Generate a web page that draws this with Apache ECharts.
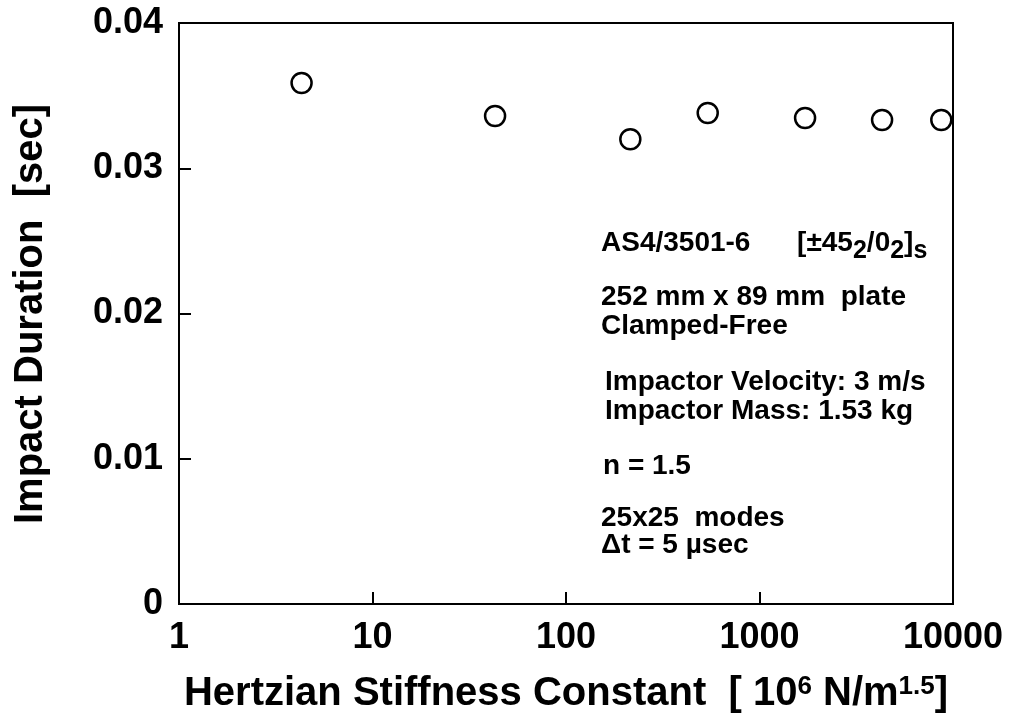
<!DOCTYPE html>
<html>
<head>
<meta charset="utf-8">
<script src="https://cdn.jsdelivr.net/npm/echarts@6/dist/echarts.min.js"></script>
<style>
  html, body { margin: 0; padding: 0; background: #fff; }
  #chart { width: 1012px; height: 725px; }
</style>
</head>
<body>
<div id="chart"></div>
<script>
// ---- data ----
const stiffness = [4.3, 43, 215, 540, 1720, 4300, 8700];          // 10^6 N/m^1.5
const impactDuration = [0.03587, 0.0336, 0.0320, 0.0338, 0.03346, 0.03332, 0.03332]; // sec
const xTickLabels = ['1', '10', '100', '1000', '10000'];
const yTickLabels = ['0', '0.01', '0.02', '0.03', '0.04'];
const yAxisTitle = 'Impact Duration  [sec]';
const xAxisTitle = 'Hertzian Stiffness Constant  [ 10{sup|6} N/m{sup|1.5}]';
const noteLines = [
  '{n|AS4/3501-6      [±45}{sub|2}{n|/0}{sub|2}{n|]}{sub|s}',
  '252 mm x 89 mm  plate',
  'Clamped-Free',
  'Impactor Velocity: 3 m/s',
  'Impactor Mass: 1.53 kg',
  'n = 1.5',
  '25x25  modes',
  'Δt = 5 µsec'
];

const FONT = '"Liberation Sans", Arial, Helvetica, sans-serif';
const notePos = [
  [601, 243.5], [601, 297.5], [601, 326], [605, 382.5],
  [605, 411], [603, 466], [601, 518], [601, 545]
];

const chart = echarts.init(document.getElementById('chart'), null, { renderer: 'canvas' });

const graphics = noteLines.map((t, i) => ({
  type: 'text',
  x: notePos[i][0],
  y: notePos[i][1],
  silent: true,
  style: {
    text: t,
    fill: '#000',
    font: 'bold 28px ' + FONT,
    align: 'left',
    verticalAlign: 'middle',
    rich: {
      n: { fontSize: 28, fontWeight: 'bold', fontFamily: FONT, lineHeight: 40, verticalAlign: 'middle', fill: '#000' },
      sub: { fontSize: 25, fontWeight: 'bold', fontFamily: FONT, lineHeight: 20, verticalAlign: 'bottom', fill: '#000' }
    }
  }
}));
graphics.push({
  type: 'text',
  x: 31,
  y: 314,
  rotation: Math.PI / 2,
  silent: true,
  style: {
    text: yAxisTitle,
    fill: '#000',
    font: 'bold 40px ' + FONT,
    align: 'center',
    verticalAlign: 'middle'
  }
});

const option = {
  backgroundColor: '#fff',
  animation: false,
  grid: {
    left: 179, right: 59, top: 23, bottom: 121,
    show: true, borderColor: '#000', borderWidth: 2, backgroundColor: 'transparent'
  },
  xAxis: {
    type: 'log',
    logBase: 10,
    min: 1,
    max: 10000,
    name: xAxisTitle,
    nameLocation: 'middle',
    nameGap: 70,
    nameTextStyle: {
      color: '#000', fontSize: 40, fontWeight: 'bold', fontFamily: FONT, lineHeight: 40,
      rich: {
        sup: { fontSize: 26, fontWeight: 'bold', fontFamily: FONT, lineHeight: 24, verticalAlign: 'top', color: '#000' }
      }
    },
    axisLine: { show: true, lineStyle: { color: '#000', width: 2 } },
    axisTick: { show: true, inside: true, length: 12, lineStyle: { color: '#000', width: 2 } },
    minorTick: { show: false },
    splitLine: { show: false },
    axisLabel: {
      color: '#000', fontSize: 36, fontWeight: 'bold', fontFamily: FONT, margin: 16,
      showMinLabel: true, showMaxLabel: true,
      formatter: function (v) {
        const idx = Math.round(Math.log10(v));
        return xTickLabels[idx] !== undefined ? xTickLabels[idx] : '';
      }
    }
  },
  yAxis: {
    type: 'value',
    min: 0,
    max: 0.04,
    interval: 0.01,
    axisLine: { show: true, lineStyle: { color: '#000', width: 2 } },
    axisTick: { show: true, inside: true, length: 12, lineStyle: { color: '#000', width: 2 } },
    splitLine: { show: false },
    axisLabel: {
      color: '#000', fontSize: 36, fontWeight: 'bold', fontFamily: FONT, margin: 16,
      formatter: function (v) {
        const idx = Math.round(v / 0.01);
        return yTickLabels[idx] !== undefined ? yTickLabels[idx] : '';
      }
    }
  },
  series: [{
    type: 'scatter',
    data: stiffness.map((x, i) => [x, impactDuration[i]]),
    symbol: 'circle',
    symbolSize: 20,
    itemStyle: { color: '#fff', borderColor: '#000', borderWidth: 2.5, opacity: 1 },
    clip: false
  }],
  graphic: graphics
};

chart.setOption(option);
</script>
</body>
</html>
